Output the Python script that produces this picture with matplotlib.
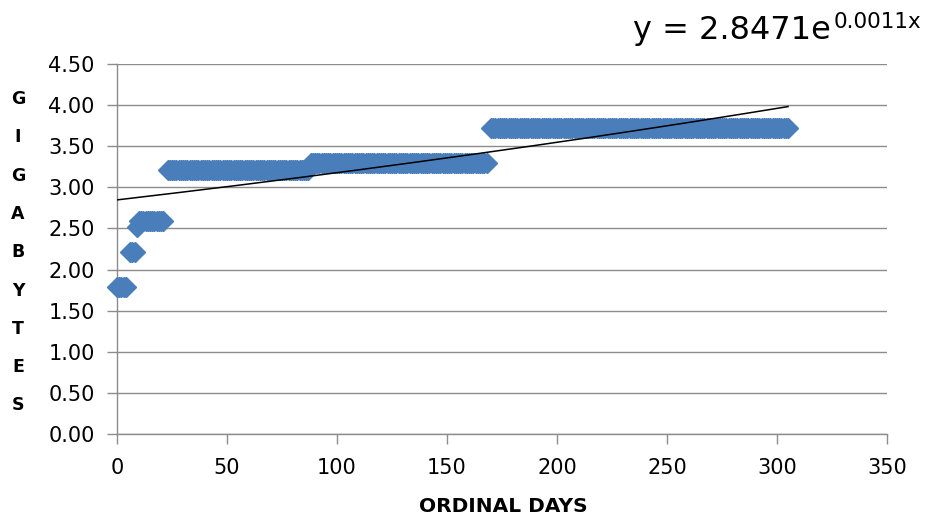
import numpy as np
import matplotlib.pyplot as plt

# step levels: first day, last day, gigabytes
step_start = [0, 6, 9, 10, 23, 88, 170]
step_end = [4, 8, 9, 21, 87, 168, 305]
step_value = [1.79, 2.21, 2.52, 2.59, 3.21, 3.30, 3.72]

# exponential trend line shown on the chart: y = a * e^(b x)
trend_a = 2.8471
trend_b = 0.0011

x_ticks = [0, 50, 100, 150, 200, 250, 300, 350]
y_ticks = [0.0, 0.5, 1.0, 1.5, 2.0, 2.5, 3.0, 3.5, 4.0, 4.5]

days = np.concatenate([np.arange(s, e + 1) for s, e in zip(step_start, step_end)])
gb = np.concatenate([np.full(e - s + 1, v) for s, e, v in zip(step_start, step_end, step_value)])

plt.rcParams['font.family'] = ['DejaVu Sans']
grey = '#8c8c8c'
blue = '#4A7EBB'

fig = plt.figure(figsize=(9.35, 5.2), dpi=100)
ax = fig.add_axes([117 / 935, 1 - 434 / 520, 770 / 935, 370 / 520])

ax.plot(days, gb, linestyle='none', marker='D', markersize=10.5,
        color=blue, markeredgecolor=blue, clip_on=False, zorder=3)

tx = np.linspace(days.min(), days.max(), 200)
ax.plot(tx, trend_a * np.exp(trend_b * tx), color='black', linewidth=1.1, zorder=4)

ax.set_xlim(0, 350)
ax.set_ylim(0, 4.5)
ax.set_xticks(x_ticks)
ax.set_yticks(y_ticks)
ax.set_yticklabels([f'{v:.2f}' for v in y_ticks])
ax.yaxis.grid(True, color=grey, linewidth=1)
ax.set_axisbelow(True)

for side in ['top', 'right']:
    ax.spines[side].set_visible(False)
for side in ['left', 'bottom']:
    ax.spines[side].set_color(grey)
    ax.spines[side].set_linewidth(1)
ax.tick_params(axis='both', colors=grey, labelcolor='black', labelsize=15,
               length=7, width=1)
ax.tick_params(axis='y', pad=9)
ax.tick_params(axis='x', pad=10)

# vertical stacked y label
for i, ch in enumerate('GIGABYTES'):
    fig.text(18 / 935, 1 - (99 + i * 38.3) / 520, ch, ha='center', va='center',
             fontsize=12.5, fontweight='bold')

fig.text(503 / 935, 1 - 507 / 520, 'ORDINAL DAYS', ha='center', va='center',
         fontsize=14.5, fontweight='bold')

# trend equation
fig.text(633 / 935, 1 - 39 / 520, f'y = {trend_a}e', ha='left', va='baseline',
         fontsize=23)
fig.text(834 / 935, 1 - 28 / 520, f'{trend_b}x', ha='left', va='baseline',
         fontsize=15.5)

fig.savefig('out.png', dpi=100)
